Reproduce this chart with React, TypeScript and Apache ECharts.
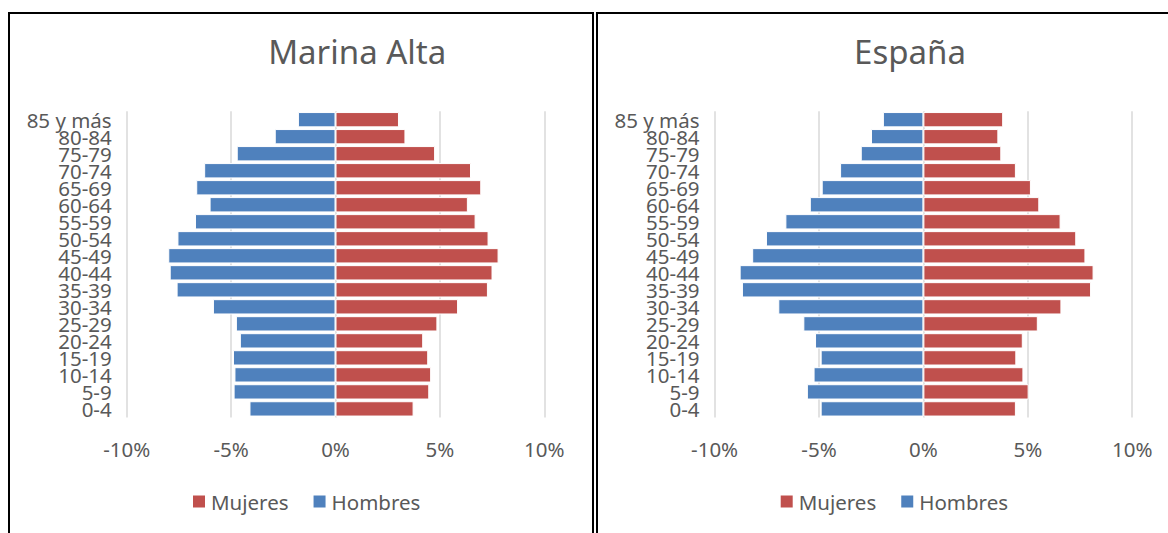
import React, { useEffect, useRef } from "react";
import * as echarts from "echarts";

const ageGroups = [
  "0-4", "5-9", "10-14", "15-19", "20-24", "25-29", "30-34", "35-39", "40-44",
  "45-49", "50-54", "55-59", "60-64", "65-69", "70-74", "75-79", "80-84", "85 y más",
];

const xTicks = [-10, -5, 0, 5, 10];

const marinaHombres = [4.12, 4.88, 4.84, 4.91, 4.58, 4.77, 5.87, 7.61, 7.94, 8.01, 7.57, 6.73, 6.03, 6.67, 6.29, 4.73, 2.91, 1.8];
const marinaMujeres = [3.74, 4.49, 4.58, 4.44, 4.2, 4.88, 5.87, 7.3, 7.52, 7.81, 7.33, 6.71, 6.34, 6.98, 6.49, 4.77, 3.35, 3.04];

const espanaHombres = [4.92, 5.58, 5.26, 4.92, 5.19, 5.75, 6.95, 8.69, 8.8, 8.2, 7.54, 6.61, 5.44, 4.87, 3.99, 3.0, 2.51, 1.94];
const espanaMujeres = [4.43, 5.04, 4.79, 4.45, 4.76, 5.48, 6.61, 8.03, 8.15, 7.76, 7.32, 6.57, 5.55, 5.15, 4.43, 3.73, 3.59, 3.82];

const FONT = "'Noto Sans', 'Open Sans', sans-serif";
const TEXT = "#595959";
const BLUE = "#4F81BD";
const RED = "#C0504D";
const LABEL_SIZE = 20.5;

type ChartProps = {
  title: string;
  hombres: number[];
  mujeres: number[];
  gridLeft: number;
  titleX: number;
  legendLeft: number;
  style: React.CSSProperties;
};

function buildOption(p: ChartProps) {
  return {
    animation: false,
    graphic: [
      {
        type: "text",
        x: p.titleX,
        y: 37,
        style: {
          text: p.title,
          fill: TEXT,
          fontSize: 33,
          fontFamily: FONT,
          align: "center",
          verticalAlign: "middle",
        },
      },
    ],
    legend: {
      data: ["Mujeres", "Hombres"],
      left: p.legendLeft,
      top: 472,
      icon: "rect",
      itemWidth: 14,
      itemHeight: 14,
      itemGap: 23,
      textStyle: { fontSize: LABEL_SIZE, color: TEXT, fontFamily: FONT },
    },
    grid: { left: p.gridLeft, top: 97.2, width: 417.6, height: 306.2, containLabel: false },
    xAxis: {
      type: "value",
      min: xTicks[0],
      max: xTicks[xTicks.length - 1],
      interval: 5,
      axisLine: { show: false },
      axisTick: { show: false },
      axisLabel: {
        formatter: (v: number) => `${v}%`,
        fontSize: LABEL_SIZE,
        color: TEXT,
        fontFamily: FONT,
        margin: 21,
      },
      splitLine: { show: true, lineStyle: { color: "#d9d9d9", width: 1.5 } },
    },
    yAxis: {
      type: "category",
      data: ageGroups,
      axisLine: { show: false },
      axisTick: { show: false },
      axisLabel: {
        interval: 0,
        fontSize: LABEL_SIZE,
        color: TEXT,
        fontFamily: FONT,
        margin: 15,
      },
    },
    series: [
      {
        name: "Hombres",
        type: "bar",
        stack: "total",
        barCategoryGap: "10%",
        data: p.hombres.map((v) => -v),
        itemStyle: { color: BLUE, borderColor: "#ffffff", borderWidth: 1 },
      },
      {
        name: "Mujeres",
        type: "bar",
        stack: "total",
        barCategoryGap: "10%",
        data: p.mujeres,
        itemStyle: { color: RED, borderColor: "#ffffff", borderWidth: 1 },
      },
    ],
  };
}

function Pyramid(p: ChartProps) {
  const ref = useRef<HTMLDivElement>(null);
  useEffect(() => {
    if (!ref.current) return;
    const chart = echarts.init(ref.current, undefined, { renderer: "svg" });
    chart.setOption(buildOption(p) as any);
    return () => chart.dispose();
  }, []);
  return <div ref={ref} style={p.style} />;
}

export default function App() {
  return (
    <div style={{ position: "absolute", left: 0, top: 0, width: 1168, height: 533, overflow: "hidden", background: "#fff" }}>
      <div
        style={{
          position: "absolute",
          left: 8,
          top: 12,
          width: 582,
          height: 560,
          border: "2px solid #000",
          boxSizing: "content-box",
        }}
      />
      <div
        style={{
          position: "absolute",
          left: 596,
          top: 12,
          width: 600,
          height: 560,
          border: "2px solid #000",
          boxSizing: "content-box",
        }}
      />
      <Pyramid
        title="Marina Alta"
        hombres={marinaHombres}
        mujeres={marinaMujeres}
        gridLeft={116.7}
        titleX={347.2}
        legendLeft={176}
        style={{ position: "absolute", left: 10, top: 14, width: 582, height: 519 }}
      />
      <Pyramid
        title="España"
        hombres={espanaHombres}
        mujeres={espanaMujeres}
        gridLeft={117.6}
        titleX={313}
        legendLeft={176.7}
        style={{ position: "absolute", left: 597, top: 14, width: 571, height: 519 }}
      />
    </div>
  );
}
